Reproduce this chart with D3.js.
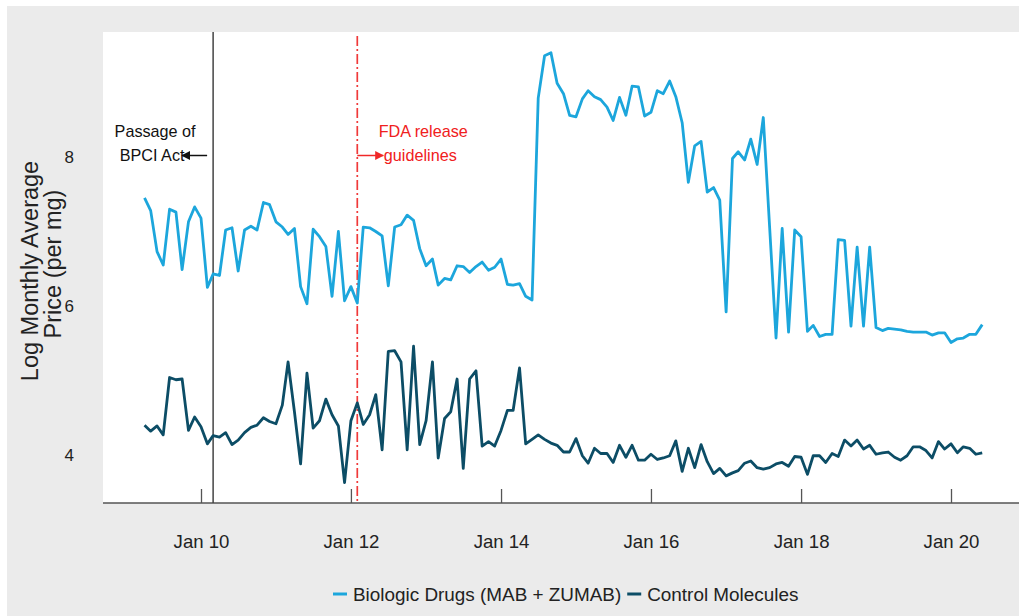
<!DOCTYPE html>
<html>
<head>
<meta charset="utf-8">
<script src="https://cdn.jsdelivr.net/npm/d3@7"></script>
<style>
  body { margin: 0; background: #fff; }
  svg { display: block; font-family: "Liberation Sans", Arial, sans-serif; }
</style>
</head>
<body>
<div id="chart"></div>
<script>
var W = 1019, H = 616;

// monthly series, Apr 2009 .. Jun 2020
var startYear = 2009, startMonth = 3;
var biologic = [7.45,7.28,6.73,6.55,7.30,7.26,6.49,7.13,7.33,7.18,6.25,6.43,6.41,7.02,7.05,6.47,7.02,7.07,7.02,7.39,
  7.36,7.13,7.06,6.96,7.04,6.26,6.03,7.03,6.93,6.80,6.13,7.00,6.07,6.26,6.04,7.06,7.05,7.00,6.94,6.27,
  7.06,7.09,7.22,7.15,6.77,6.54,6.63,6.28,6.37,6.35,6.54,6.53,6.45,6.53,6.59,6.48,6.52,6.63,6.29,6.28,
  6.30,6.13,6.08,8.79,9.36,9.40,8.99,8.85,8.56,8.54,8.78,8.89,8.81,8.77,8.67,8.49,8.80,8.56,8.95,8.94,
  8.55,8.60,8.89,8.85,9.02,8.81,8.46,7.66,8.15,8.21,7.53,7.59,7.42,5.92,7.98,8.07,7.96,8.24,7.90,8.53,
  7.05,5.57,7.04,5.65,7.02,6.93,5.66,5.74,5.59,5.62,5.62,6.89,6.88,5.73,6.79,5.73,6.79,5.71,5.67,5.70,
  5.69,5.68,5.66,5.65,5.65,5.65,5.61,5.64,5.64,5.51,5.56,5.57,5.62,5.62,5.75];
var control = [4.40,4.32,4.39,4.27,5.04,5.01,5.02,4.33,4.51,4.38,4.15,4.26,4.24,4.30,4.14,4.20,4.30,4.37,4.40,4.50,
  4.45,4.42,4.67,5.25,4.58,3.88,5.10,4.36,4.46,4.75,4.54,4.39,3.63,4.46,4.70,4.41,4.54,4.81,4.07,5.39,
  5.40,5.25,4.07,5.46,4.14,4.46,5.25,3.96,4.49,4.58,5.02,3.82,5.02,5.13,4.12,4.18,4.12,4.33,4.60,4.60,
  5.17,4.15,4.21,4.27,4.21,4.16,4.13,4.04,4.04,4.22,3.99,3.89,4.09,4.02,4.02,3.90,4.13,3.97,4.13,3.93,
  3.93,4.01,3.94,3.96,3.99,4.19,3.78,4.09,3.83,4.14,3.91,3.75,3.82,3.72,3.76,3.79,3.89,3.92,3.83,3.81,
  3.83,3.88,3.90,3.85,3.98,3.97,3.74,3.99,3.99,3.90,4.02,3.98,4.20,4.12,4.20,4.08,4.13,4.01,4.03,4.04,
  3.97,3.93,3.99,4.11,4.11,4.06,3.96,4.18,4.08,4.15,4.03,4.11,4.09,4.01,4.03];

var seriesNames = ["Biologic Drugs (MAB + ZUMAB)", "Control Molecules"];
var seriesColors = ["#1ca6dc", "#0c4d66"];
var xTickYears = [2010, 2012, 2014, 2016, 2018, 2020];
var yTicks = [4, 6, 8];
var events = [
  { date: new Date(2010, 2, 1), lines: ["Passage of", "BPCI Act"] },
  { date: new Date(2012, 1, 1), lines: ["FDA release", "guidelines"] }
];

var months = biologic.map(function(d, i) { return new Date(startYear, startMonth + i, 1); });

var svg = d3.select("#chart").append("svg")
  .attr("width", W).attr("height", H);

// backgrounds
svg.append("rect").attr("x", 7).attr("y", 6).attr("width", W - 7).attr("height", H - 6).attr("fill", "#ebebeb");
var panel = { left: 103, top: 32, right: 1019, bottom: 503 };
svg.append("rect").attr("x", panel.left).attr("y", panel.top)
  .attr("width", panel.right - panel.left).attr("height", panel.bottom - panel.top).attr("fill", "#fff");

var x = d3.scaleTime()
  .domain([new Date(2010, 0, 1), new Date(2020, 0, 1)])
  .range([201, 951]);
var y = d3.scaleLinear().domain([4, 8]).range([455, 157]);

// x axis
var xAxis = d3.axisBottom(x)
  .tickValues(xTickYears.map(function(yr) { return new Date(yr, 0, 1); }))
  .tickFormat(d3.timeFormat("Jan %y"))
  .tickSize(-14).tickPadding(32);
var gx = svg.append("g").attr("transform", "translate(0," + panel.bottom + ")").call(xAxis);
gx.select(".domain").remove();
gx.selectAll(".tick line").attr("stroke", "#555").attr("stroke-width", 1.3);
gx.selectAll(".tick text").attr("font-size", "18.6px").attr("fill", "#222")
  .attr("font-family", "Liberation Sans, Arial, sans-serif");
svg.append("line").attr("x1", panel.left).attr("x2", panel.right)
  .attr("y1", panel.bottom).attr("y2", panel.bottom).attr("stroke", "#555").attr("stroke-width", 1.5);

// y axis
var yAxis = d3.axisLeft(y).tickValues(yTicks).tickFormat(d3.format("d")).tickSize(0).tickPadding(4);
var gy = svg.append("g").attr("transform", "translate(78,0)").call(yAxis);
gy.select(".domain").remove();
gy.selectAll(".tick text").attr("font-size", "17px").attr("fill", "#222")
  .attr("font-family", "Liberation Sans, Arial, sans-serif");

svg.append("text").attr("transform", "translate(38,271) rotate(-90)")
  .attr("text-anchor", "middle").attr("font-size", "23.5px").attr("fill", "#222")
  .text("Log Monthly Average");
svg.append("text").attr("transform", "translate(61,264) rotate(-90)")
  .attr("text-anchor", "middle").attr("font-size", "23.5px").attr("fill", "#222")
  .text("Price (per mg)");

// event lines
var defs = svg.append("defs");
function marker(id, color) {
  defs.append("marker").attr("id", id).attr("viewBox", "0 0 10 10")
    .attr("refX", 9).attr("refY", 5).attr("markerWidth", 6).attr("markerHeight", 6)
    .attr("orient", "auto-start-reverse")
    .append("path").attr("d", "M0,0L10,5L0,10z").attr("fill", color);
}
marker("arrBlack", "#111");
marker("arrRed", "#f02828");

var xb = x(events[0].date), xf = x(events[1].date);
svg.append("line").attr("x1", xb).attr("x2", xb).attr("y1", panel.top).attr("y2", panel.bottom)
  .attr("stroke", "#444").attr("stroke-width", 1.5);
svg.append("line").attr("x1", xf).attr("x2", xf).attr("y1", 36).attr("y2", panel.bottom)
  .attr("stroke", "#f03a3a").attr("stroke-width", 1.7).attr("stroke-dasharray", "10,3,2,3");

svg.append("line").attr("x1", xb - 6).attr("x2", xb - 31).attr("y1", 155.5).attr("y2", 155.5)
  .attr("stroke", "#111").attr("stroke-width", 1.5).attr("marker-end", "url(#arrBlack)");
svg.append("line").attr("x1", xf).attr("x2", xf + 26).attr("y1", 155.5).attr("y2", 155.5)
  .attr("stroke", "#f02828").attr("stroke-width", 1.5).attr("marker-end", "url(#arrRed)");

var tb = svg.append("text").attr("font-size", "16.2px").attr("fill", "#111").attr("text-anchor", "middle");
tb.append("tspan").attr("x", xb - 58).attr("y", 137).text(events[0].lines[0]);
tb.append("tspan").attr("x", xb - 61).attr("y", 161).text(events[0].lines[1]);
var tf = svg.append("text").attr("font-size", "16.2px").attr("fill", "#f02020").attr("text-anchor", "middle");
tf.append("tspan").attr("x", xf + 66).attr("y", 137).text(events[1].lines[0]);
tf.append("tspan").attr("x", xf + 63).attr("y", 161).text(events[1].lines[1]);

// series lines
var line = d3.line()
  .x(function(d, i) { return x(months[i]); })
  .y(function(d) { return y(d); });
[biologic, control].forEach(function(s, k) {
  svg.append("path").datum(s)
    .attr("fill", "none").attr("stroke", seriesColors[k])
    .attr("stroke-width", 2.8).attr("stroke-linejoin", "round")
    .attr("d", line);
});

// legend
var lg = svg.append("g").attr("font-size", "18.9px");
var lx = 333;
seriesNames.forEach(function(name, k) {
  lg.append("line").attr("x1", lx).attr("x2", lx + 14).attr("y1", 594).attr("y2", 594)
    .attr("stroke", seriesColors[k]).attr("stroke-width", 3);
  var t = lg.append("text").attr("x", lx + 20).attr("y", 601).attr("fill", "#222").text(name);
  lx += 20 + t.node().getComputedTextLength() + 6;
});
</script>
</body>
</html>
